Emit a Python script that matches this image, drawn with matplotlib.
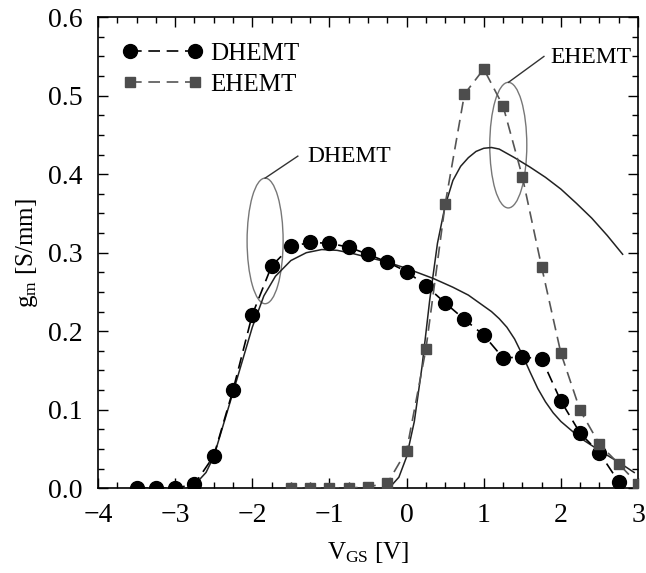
import matplotlib
matplotlib.use("Agg")
import matplotlib.pyplot as plt
from matplotlib.patches import Ellipse
from matplotlib.ticker import MultipleLocator, FormatStrFormatter

# Measured data
dh_x = [-3.5, -3.25, -3.0, -2.75, -2.5, -2.25, -2.0, -1.75, -1.5, -1.25, -1.0, -0.75, -0.5,
        -0.25, 0.0, 0.25, 0.5, 0.75, 1.0, 1.25, 1.5, 1.75, 2.0, 2.25, 2.5, 2.75]
dh_y = [0.0, 0.0, 0.0, 0.005, 0.041, 0.125, 0.221, 0.283, 0.308, 0.313, 0.312, 0.307, 0.298,
        0.288, 0.276, 0.258, 0.236, 0.215, 0.195, 0.166, 0.167, 0.165, 0.111, 0.070, 0.045, 0.008]

eh_x = [-1.5, -1.25, -1.0, -0.75, -0.5, -0.25, 0.0, 0.25, 0.5, 0.75, 1.0, 1.25, 1.5, 1.75,
        2.0, 2.25, 2.5, 2.75, 3.0]
eh_y = [0.0, 0.0, 0.0, 0.0, 0.002, 0.006, 0.048, 0.177, 0.362, 0.502, 0.534, 0.487, 0.397,
        0.282, 0.172, 0.099, 0.056, 0.031, 0.005]

# Simulated curves
dh_sim_x = [-2.85, -2.75, -2.6, -2.5, -2.25, -2.0, -1.85, -1.7, -1.5, -1.3, -1.1, -0.9, -0.7,
            -0.5, -0.25, 0.0, 0.35, 0.6, 0.8, 1.0, 1.1, 1.2, 1.3, 1.4, 1.5, 1.6, 1.7, 1.8,
            1.9, 2.0, 2.25, 2.5, 2.75, 2.95]
dh_sim_y = [0.0, 0.004, 0.02, 0.04, 0.122, 0.205, 0.245, 0.27, 0.29, 0.300, 0.304, 0.303, 0.299,
            0.294, 0.288, 0.280, 0.267, 0.256, 0.246, 0.232, 0.225, 0.216, 0.205, 0.190, 0.170,
            0.148, 0.127, 0.110, 0.096, 0.085, 0.064, 0.048, 0.033, 0.02]

eh_sim_x = [-0.3, -0.2, -0.1, 0.0, 0.1, 0.2, 0.3, 0.4, 0.5, 0.6, 0.7, 0.8, 0.9, 1.0, 1.1,
            1.2, 1.4, 1.6, 1.8, 2.0, 2.2, 2.4, 2.6, 2.8]
eh_sim_y = [0.0, 0.003, 0.014, 0.04, 0.085, 0.155, 0.24, 0.312, 0.36, 0.392, 0.41, 0.421,
            0.429, 0.433, 0.434, 0.432, 0.421, 0.409, 0.396, 0.381, 0.363, 0.344, 0.322, 0.298]

x_ticks = [-4, -3, -2, -1, 0, 1, 2, 3]
y_ticks = [0.0, 0.1, 0.2, 0.3, 0.4, 0.5, 0.6]

plt.rcParams['font.family'] = ['Liberation Serif', 'DejaVu Serif']
plt.rcParams['mathtext.fontset'] = 'custom'
plt.rcParams['mathtext.rm'] = 'Liberation Serif'
plt.rcParams['mathtext.it'] = 'Liberation Serif:italic'

fig = plt.figure(figsize=(6.46, 5.73), dpi=100)
ax = fig.add_axes([0.1517, 0.148, 0.836, 0.822])

sq_color = '#4d4d4d'
ax.plot(dh_sim_x, dh_sim_y, '-', color='#222222', lw=1.1)
ax.plot(eh_sim_x, eh_sim_y, '-', color='#222222', lw=1.1)
ax.plot(dh_x, dh_y, '--', color='black', lw=1.2, dashes=(7, 4), marker='o', markersize=10,
        markerfacecolor='black', markeredgecolor='black', label='DHEMT', zorder=3)
ax.plot(eh_x, eh_y, '--', color='#555555', lw=1.2, dashes=(7, 4), marker='s', markersize=7.5,
        markerfacecolor=sq_color, markeredgecolor=sq_color, label='EHEMT', zorder=3)

# Annotation ellipses
ax.add_patch(Ellipse((-1.834, 0.315), 0.467, 0.16, fill=False, edgecolor='#777777', lw=1.0))
ax.add_patch(Ellipse((1.318, 0.437), 0.48, 0.16, fill=False, edgecolor='#777777', lw=1.0))
ax.plot([-1.834, -1.41], [0.395, 0.423], '-', color='#333333', lw=1.0)
ax.plot([1.32, 1.78], [0.517, 0.550], '-', color='#333333', lw=1.0)
ax.text(-1.29, 0.422, 'DHEMT', fontsize=17, va='center', ha='left')
ax.text(1.86, 0.549, 'EHEMT', fontsize=17, va='center', ha='left')

ax.set_xlim(-4, 3)
ax.set_ylim(0, 0.6)
ax.set_xticks(x_ticks)
ax.set_yticks(y_ticks)
ax.yaxis.set_major_formatter(FormatStrFormatter('%.1f'))
ax.xaxis.set_minor_locator(MultipleLocator(0.25))
ax.yaxis.set_minor_locator(MultipleLocator(0.025))
ax.tick_params(which='both', direction='in', top=True, right=True, labelsize=20, width=1)
ax.tick_params(which='major', length=7)
ax.tick_params(which='minor', length=4)
ax.tick_params(axis='y', which='major', pad=11)
ax.tick_params(axis='x', which='major', pad=11)
for s in ax.spines.values():
    s.set_linewidth(1.2)

ax.set_xlabel(r'V$_{\mathrm{GS}}$ [V]', fontsize=18, labelpad=8)
ax.set_ylabel(r'g$_{\mathrm{m}}$ [S/mm]', fontsize=18, labelpad=6)

leg = ax.legend(loc='upper left', frameon=False, fontsize=18, numpoints=2, handlelength=3.2,
                borderaxespad=0.6, handletextpad=0.3, labelspacing=0.35)

fig.savefig('out.png', dpi=100)
